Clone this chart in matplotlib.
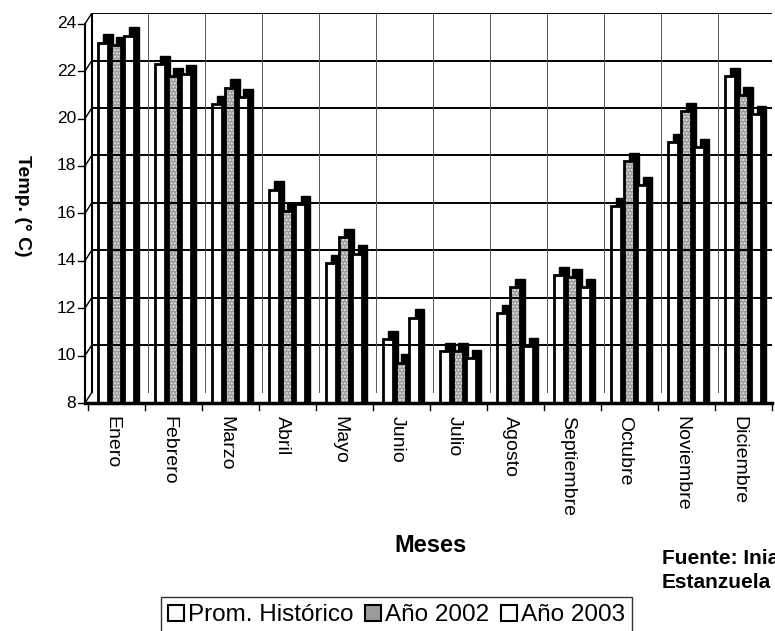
import numpy as np
import matplotlib.pyplot as plt
from matplotlib.patches import Patch

plt.rcParams['font.family'] = ['Liberation Sans', 'DejaVu Sans']

meses = ['Enero', 'Febrero', 'Marzo', 'Abril', 'Mayo', 'Junio', 'Julio',
         'Agosto', 'Septiembre', 'Octubre', 'Noviembre', 'Diciembre']
prom_hist = [23.2, 22.3, 20.6, 17.0, 13.9, 10.7, 10.2, 11.8, 13.4, 16.3, 19.0, 21.8]
anio_2002 = [23.1, 21.8, 21.3, 16.1, 15.0, 9.7, 10.2, 12.9, 13.3, 18.2, 20.3, 21.0]
anio_2003 = [23.5, 21.9, 20.9, 16.4, 14.3, 11.6, 9.9, 10.4, 12.9, 17.2, 18.8, 20.2]
yticks = [8, 10, 12, 14, 16, 18, 20, 22, 24]

W, H = 775, 631
fig = plt.figure(figsize=(W / 100, H / 100), dpi=100)
ax = fig.add_axes([85 / W, 1 - 403 / H, (772 - 85) / W, (403 - 13) / H])
ymin = 8
ax.set_ylim(ymin, ymin + (403 - 13) / 23.7)
ax.set_xlim(-0.6, 11.45)
for s in ax.spines.values():
    s.set_visible(False)
ax.set_xticks([])
ax.set_yticks([])

dz = 0.45   # profundidad en y
dx = 0.12   # profundidad en x
x0 = -0.6
# pared de fondo y grilla
for v in yticks[1:]:
    ax.plot([x0 + dx, 11.45], [v + dz, v + dz], color='black', lw=1.4)
    ax.plot([x0, x0 + dx], [v, v + dz], color='black', lw=1.0)
ax.plot([x0 + dx, x0 + dx], [ymin + dz, 24 + dz], color='black', lw=1.5)
for k in range(1, 13):
    ax.plot([k - 0.5, k - 0.5], [ymin + dz, 24 + dz], color='#555555', lw=0.7)
ax.plot([x0, x0 + dx], [ymin, ymin + dz], color='black', lw=1.0)
# eje frontal
ax.plot([x0, x0], [ymin, 24], color='black', lw=1.5, clip_on=False)
ax.plot([x0, 11.45], [ymin, ymin], color='black', lw=2.5, clip_on=False)
for v in yticks:
    ax.plot([x0 - 0.12, x0], [v, v], color='black', lw=1.0, clip_on=False)
    ax.text(x0 - 0.16, v, str(v), ha='right', va='center', fontsize=12.5)
for k in range(13):
    ax.plot([k - 0.547, k - 0.547], [ymin, ymin - 0.3], color='black', lw=1.0, clip_on=False)

x = np.arange(len(meses))
bw = 0.17
offs = [-0.285, -0.055, 0.175]
faces = ['white', '#9c9c9c', 'white']
series = [prom_hist, anio_2002, anio_2003]
for j in range(3):
    vals = np.array(series[j])
    ax.bar(x + offs[j] + 0.09, vals + 0.35 - ymin, bw, bottom=ymin,
           color='black', edgecolor='black', lw=1)
    ax.bar(x + offs[j], vals - ymin, bw, bottom=ymin, color=faces[j], lw=0)
    if j == 1:
        ax.bar(x + offs[j], vals - ymin, bw, bottom=ymin, facecolor='none',
               edgecolor='#e6e6e6', hatch='.....', lw=0)
    ax.bar(x + offs[j], vals - ymin, bw, bottom=ymin, facecolor='none',
           edgecolor='black', lw=2)

for i, m in enumerate(meses):
    ax.text(i - 0.13, ymin - 0.55, m, rotation=-90, ha='center', va='top', fontsize=14)

fig.text(22 / W, 1 - 206 / H, 'Temp. (° C)', rotation=-90, ha='center', va='center',
         fontsize=14, fontweight='bold')
fig.text(431 / W, 1 - 545 / H, 'Meses', ha='center', va='center',
         fontsize=17, fontweight='bold')
fig.text(662 / W, 1 - 559 / H, 'Fuente: Inia La', ha='left', va='center',
         fontsize=15, fontweight='bold')
fig.text(662 / W, 1 - 583 / H, 'Estanzuela', ha='left', va='center',
         fontsize=15, fontweight='bold')

handles = [Patch(facecolor=f, edgecolor='black', lw=1.5) for f in faces]
leg = fig.legend(handles, ['Prom. Histórico', 'Año 2002', 'Año 2003'],
                 loc='upper left', bbox_to_anchor=(161 / W, 1 - 597 / H), ncol=3,
                 fontsize=17.5, handlelength=0.65, handleheight=0.65, handletextpad=0.15,
                 columnspacing=0.5, fancybox=False, borderpad=0.3, borderaxespad=0)
leg.get_frame().set_edgecolor('black')
leg.get_frame().set_linewidth(1)

fig.savefig('out.png', dpi=100)
